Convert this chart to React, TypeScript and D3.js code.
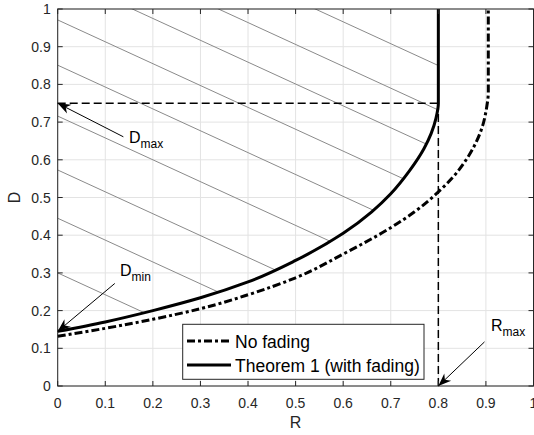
import React from 'react'
import * as d3 from 'd3'

// chart values
const ticks = [0, 0.1, 0.2, 0.3, 0.4, 0.5, 0.6, 0.7, 0.8, 0.9, 1]

// Theorem 1 (with fading)
const fadingR = [0, 0.1, 0.2, 0.3, 0.4, 0.5, 0.6, 0.66, 0.7, 0.74, 0.77, 0.785, 0.795, 0.8, 0.8]
const fadingD = [0.145, 0.17, 0.2, 0.234, 0.276, 0.333, 0.405, 0.462, 0.51, 0.572, 0.63, 0.67, 0.71, 0.75, 1]

// No fading
const noFadingR = [0, 0.1, 0.2, 0.3, 0.4, 0.5, 0.6, 0.7, 0.75, 0.8, 0.83, 0.86, 0.88, 0.893, 0.901, 0.905, 0.905]
const noFadingD = [0.132, 0.153, 0.177, 0.205, 0.242, 0.287, 0.35, 0.42, 0.462, 0.515, 0.553, 0.603, 0.648, 0.69, 0.735, 0.78, 1]

// hatch lines: D = c - slope * R
const hatchIntercepts = [1.314, 1.196, 1.091, 0.971, 0.851, 0.716, 0.573, 0.445, 0.3]
const hatchSlope = 0.58

const Rmax = 0.8
const Dmax = 0.75
const Dmin = 0.145

const W = 534
const H = 435
const left = 57.7
const right = 533.5
const top = 9
const bottom = 386

const font = 'Liberation Sans, Arial, Helvetica, sans-serif'
const axisColor = '#262626'

const App = () => {
    const x = d3.scaleLinear().domain([0, 1]).range([left, right])
    const y = d3.scaleLinear().domain([0, 1]).range([bottom, top])

    const line = d3
        .line<[number, number]>()
        .x(d => x(d[0]))
        .y(d => y(d[1]))
        .curve(d3.curveMonotoneY)

    const fading: [number, number][] = fadingR.map((r, i) => [r, fadingD[i]])
    const noFading: [number, number][] = noFadingR.map((r, i) => [r, noFadingD[i]])

    const clipD = `${line(fading)}L${x(0)},${y(1)}Z`

    const straight = d3
        .line<[number, number]>()
        .x(d => x(d[0]))
        .y(d => y(d[1]))

    return (
        <svg
            width={W}
            height={H}
            style={{ position: 'absolute', left: 0, top: 0, background: '#fff' }}
            fontFamily={font}
        >
            <defs>
                <clipPath id='hatch-clip'>
                    <path d={clipD} />
                </clipPath>
                <marker
                    id='arrow'
                    viewBox='-14 -6 16 12'
                    refX='0'
                    refY='0'
                    markerWidth='16'
                    markerHeight='12'
                    markerUnits='userSpaceOnUse'
                    orient='auto'
                >
                    <path d='M0,0 L-13,-5 L-9,0 L-13,5 Z' fill='black' />
                </marker>
            </defs>

            {/* grid */}
            <g stroke='#e3e3e3' strokeWidth={1}>
                {ticks.map(t => (
                    <line key={'gx' + t} x1={x(t)} x2={x(t)} y1={top} y2={bottom} />
                ))}
                {ticks.map(t => (
                    <line key={'gy' + t} x1={left} x2={right} y1={y(t)} y2={y(t)} />
                ))}
            </g>

            {/* hatching of the achievable region */}
            <g clipPath='url(#hatch-clip)' stroke='#8a8a8a' strokeWidth={1}>
                {hatchIntercepts.map(c => (
                    <line
                        key={c}
                        x1={x(0)}
                        y1={y(c)}
                        x2={x(1)}
                        y2={y(c - hatchSlope)}
                    />
                ))}
            </g>

            {/* Rmax / Dmax dashed guides */}
            <g stroke='black' strokeWidth={1.5} strokeDasharray='8,4' fill='none'>
                <path d={straight([[0, Dmax], [Rmax, Dmax]]) || ''} />
                <path d={straight([[Rmax, 0], [Rmax, Dmax]]) || ''} />
            </g>

            {/* curves */}
            <path
                d={line(noFading) || ''}
                fill='none'
                stroke='black'
                strokeWidth={3}
                strokeDasharray='8,3,3,3'
            />
            <path d={line(fading) || ''} fill='none' stroke='black' strokeWidth={3} />

            {/* axes box and ticks */}
            <rect
                x={left}
                y={top}
                width={right - left}
                height={bottom - top}
                fill='none'
                stroke={axisColor}
                strokeWidth={1}
            />
            <g stroke={axisColor} strokeWidth={1}>
                {ticks.map(t => (
                    <g key={'t' + t}>
                        <line x1={x(t)} x2={x(t)} y1={bottom} y2={bottom - 5} />
                        <line x1={x(t)} x2={x(t)} y1={top} y2={top + 5} />
                        <line x1={left} x2={left + 5} y1={y(t)} y2={y(t)} />
                        <line x1={right} x2={right - 5} y1={y(t)} y2={y(t)} />
                    </g>
                ))}
            </g>
            <g fontSize={14} fill={axisColor}>
                {ticks.map(t => (
                    <text key={'xl' + t} x={x(t)} y={bottom + 22} textAnchor='middle'>
                        {+t.toFixed(1)}
                    </text>
                ))}
                {ticks.map(t => (
                    <text key={'yl' + t} x={left - 7} y={y(t) + 5} textAnchor='end'>
                        {+t.toFixed(1)}
                    </text>
                ))}
            </g>
            <text x={x(0.5)} y={428} fontSize={16} textAnchor='middle' fill={axisColor}>
                R
            </text>
            <text
                transform={`translate(20, ${y(0.5)}) rotate(-90)`}
                fontSize={16}
                textAnchor='middle'
                fill={axisColor}
            >
                D
            </text>

            {/* annotations */}
            <g stroke='black' strokeWidth={1}>
                <path d={straight([[0.138, 0.661], [0, Dmax]]) || ''} markerEnd='url(#arrow)' />
                <path d={straight([[0.12, 0.272], [0, Dmin]]) || ''} markerEnd='url(#arrow)' />
                <path d={straight([[0.897, 0.117], [Rmax, 0]]) || ''} markerEnd='url(#arrow)' />
            </g>
            <g fontSize={16} fill='black'>
                <text x={129} y={143}>
                    D<tspan fontSize={12} dy={5}>max</tspan>
                </text>
                <text x={120} y={276}>
                    D<tspan fontSize={12} dy={5}>min</tspan>
                </text>
                <text x={491} y={331}>
                    R<tspan fontSize={12} dy={5}>max</tspan>
                </text>
            </g>

            {/* legend */}
            <g>
                <rect
                    x={182.7}
                    y={324.3}
                    width={241.3}
                    height={55}
                    fill='white'
                    stroke={axisColor}
                    strokeWidth={1}
                />
                <line
                    x1={187}
                    x2={231}
                    y1={341}
                    y2={341}
                    stroke='black'
                    strokeWidth={3}
                    strokeDasharray='8,3,3,3'
                />
                <text x={235} y={347.5} fontSize={17.5} fill='black'>
                    No fading
                </text>
                <line x1={187} x2={231} y1={365} y2={365} stroke='black' strokeWidth={3} />
                <text x={235} y={371.5} fontSize={17.5} fill='black'>
                    Theorem 1 (with fading)
                </text>
            </g>
        </svg>
    )
}

export default App
